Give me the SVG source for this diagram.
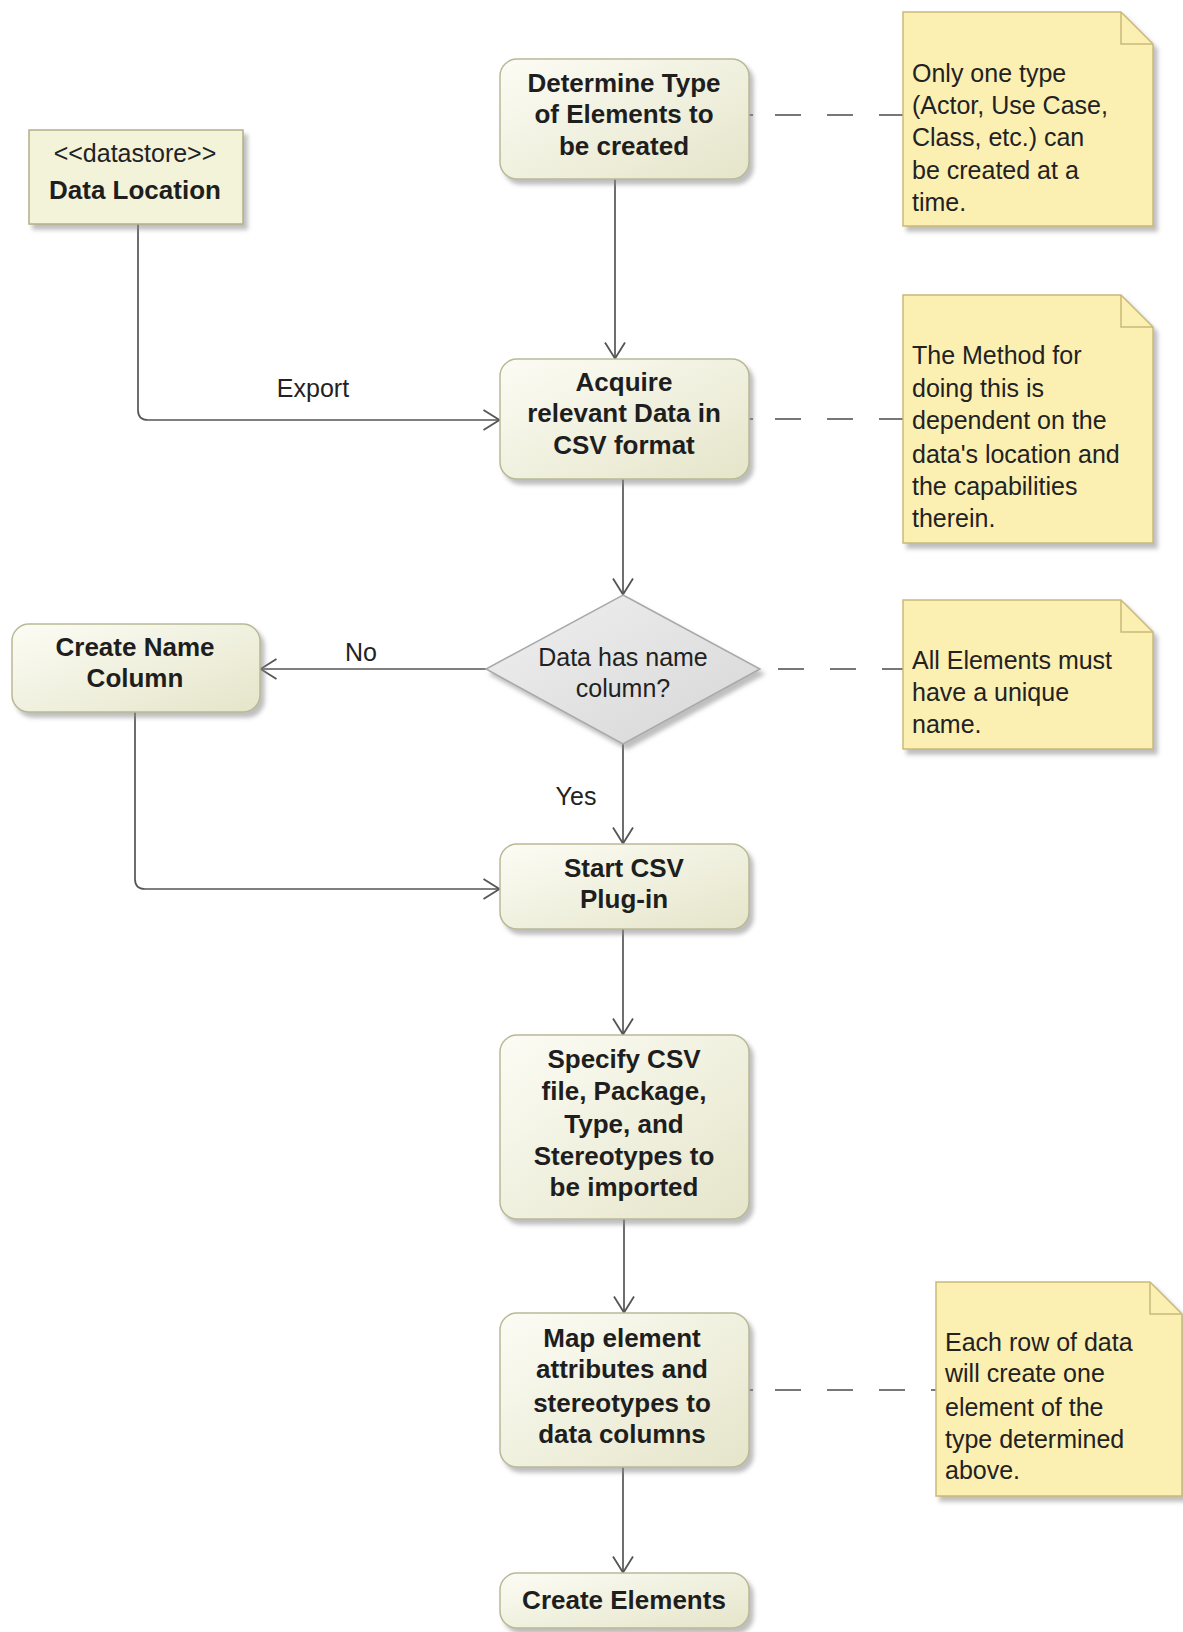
<svg xmlns="http://www.w3.org/2000/svg" width="1183" height="1632" viewBox="0 0 1183 1632">
<defs>
<linearGradient id="act" x1="0" y1="0" x2="1" y2="1">
<stop offset="0" stop-color="#fcfcf5"/>
<stop offset="1" stop-color="#e5e5ca"/>
</linearGradient>
<linearGradient id="dia" x1="0" y1="0" x2="1" y2="1">
<stop offset="0" stop-color="#f0f0f0"/>
<stop offset="1" stop-color="#d6d6d6"/>
</linearGradient>
<filter id="sh" x="-10%" y="-10%" width="130%" height="130%">
<feDropShadow dx="4" dy="5" stdDeviation="2" flood-color="#888" flood-opacity="0.55"/>
</filter>
<marker id="arr" viewBox="0 0 19 22" refX="17.5" refY="11" markerWidth="19" markerHeight="22" markerUnits="userSpaceOnUse" orient="auto">
<path d="M1,1 L17,11 L1,21" fill="none" stroke="#555" stroke-width="1.8"/>
</marker>
<style>
.act{fill:url(#act);stroke:#b9b996;stroke-width:1.5;filter:url(#sh)}
.store{fill:#f3f3da;stroke:#b5af86;stroke-width:1.5;filter:url(#sh)}
.note{fill:#fcefb2;stroke:#c9b97a;stroke-width:1.5;filter:url(#sh)}
.fold{fill:none;stroke:#c9b97a;stroke-width:1.5}
.dia{fill:url(#dia);stroke:#a9a9a9;stroke-width:1.5;filter:url(#sh)}
.b{font-family:"Liberation Sans",Arial,sans-serif;font-weight:bold;font-size:26px;fill:#1e1e1e;text-anchor:middle}
.r{font-family:"Liberation Sans",Arial,sans-serif;font-size:25px;fill:#222}
.ln{fill:none;stroke:#555;stroke-width:1.7}
.dash{fill:none;stroke:#777;stroke-width:2;stroke-dasharray:4 22 26 26 26 26 26 26 26 26}
.dash2{fill:none;stroke:#777;stroke-width:2;stroke-dasharray:26 26;stroke-dashoffset:34}
</style>
</defs>
<rect width="1183" height="1632" fill="#fff"/>

<g id="connectors">
<line class="ln" x1="615" y1="179" x2="615" y2="359" marker-end="url(#arr)"/>
<path class="ln" d="M138,224 V410 Q138,420 148,420 H500" marker-end="url(#arr)"/>
<line class="ln" x1="623" y1="479" x2="623" y2="595" marker-end="url(#arr)"/>
<line class="ln" x1="486" y1="669" x2="260" y2="669" marker-end="url(#arr)"/>
<line class="ln" x1="623" y1="744" x2="623" y2="844" marker-end="url(#arr)"/>
<path class="ln" d="M135,712 V879 Q135,889 145,889 H500" marker-end="url(#arr)"/>
<line class="ln" x1="623" y1="929" x2="623" y2="1035" marker-end="url(#arr)"/>
<line class="ln" x1="624" y1="1219" x2="624" y2="1313" marker-end="url(#arr)"/>
<line class="ln" x1="623" y1="1467" x2="623" y2="1573" marker-end="url(#arr)"/>
<line class="dash" x1="749" y1="115" x2="903" y2="115"/>
<line class="dash" x1="749" y1="419" x2="903" y2="419"/>
<line class="dash2" x1="760" y1="669" x2="903" y2="669"/>
<line class="dash" x1="749" y1="1390" x2="936" y2="1390"/>
<text class="r" x="313" y="397" text-anchor="middle">Export</text>
<text class="r" x="361" y="661" text-anchor="middle">No</text>
<text class="r" x="576" y="805" text-anchor="middle">Yes</text>
</g>

<g id="data-location">
<rect class="store" x="29" y="130" width="214" height="94"/>
<text class="r" x="135" y="162" text-anchor="middle">&lt;&lt;datastore&gt;&gt;</text>
<text class="b" x="135" y="199">Data Location</text>
</g>

<g id="determine-type">
<rect class="act" x="500" y="59" width="249" height="120" rx="17"/>
<text class="b" x="624" y="92">Determine Type</text>
<text class="b" x="624" y="123">of Elements to</text>
<text class="b" x="624" y="155">be created</text>
</g>

<g id="note-type">
<path class="note" d="M903,12 H1121 L1153,44 V226 H903 Z"/>
<path class="fold" d="M1121,12 V44 H1153"/>
<text class="r" x="912" y="82">Only one type</text>
<text class="r" x="912" y="114">(Actor, Use Case,</text>
<text class="r" x="912" y="146">Class, etc.) can</text>
<text class="r" x="912" y="179">be created at a</text>
<text class="r" x="912" y="211">time.</text>
</g>

<g id="acquire-data">
<rect class="act" x="500" y="359" width="249" height="120" rx="17"/>
<text class="b" x="624" y="391">Acquire</text>
<text class="b" x="624" y="422">relevant Data in</text>
<text class="b" x="624" y="454">CSV format</text>
</g>

<g id="note-method">
<path class="note" d="M903,295 H1121 L1153,327 V543 H903 Z"/>
<path class="fold" d="M1121,295 V327 H1153"/>
<text class="r" x="912" y="364">The Method for</text>
<text class="r" x="912" y="397">doing this is</text>
<text class="r" x="912" y="429">dependent on the</text>
<text class="r" x="912" y="463">data's location and</text>
<text class="r" x="912" y="495">the capabilities</text>
<text class="r" x="912" y="527">therein.</text>
</g>

<g id="decision-name-column">
<path class="dia" d="M623,595 L760,669 L623,744 L486,669 Z"/>
<text class="r" x="623" y="666" text-anchor="middle">Data has name</text>
<text class="r" x="623" y="697" text-anchor="middle">column?</text>
</g>

<g id="note-unique">
<path class="note" d="M903,600 H1121 L1153,632 V749 H903 Z"/>
<path class="fold" d="M1121,600 V632 H1153"/>
<text class="r" x="912" y="669">All Elements must</text>
<text class="r" x="912" y="701">have a unique</text>
<text class="r" x="912" y="733">name.</text>
</g>

<g id="create-name-column">
<rect class="act" x="12" y="624" width="248" height="88" rx="17"/>
<text class="b" x="135" y="656">Create Name</text>
<text class="b" x="135" y="687">Column</text>
</g>

<g id="start-csv-plugin">
<rect class="act" x="500" y="844" width="249" height="85" rx="17"/>
<text class="b" x="624" y="877">Start CSV</text>
<text class="b" x="624" y="908">Plug-in</text>
</g>

<g id="specify-csv">
<rect class="act" x="500" y="1035" width="249" height="184" rx="17"/>
<text class="b" x="624" y="1068">Specify CSV</text>
<text class="b" x="624" y="1100">file, Package,</text>
<text class="b" x="624" y="1133">Type, and</text>
<text class="b" x="624" y="1165">Stereotypes to</text>
<text class="b" x="624" y="1196">be imported</text>
</g>

<g id="map-attributes">
<rect class="act" x="500" y="1313" width="249" height="154" rx="17"/>
<text class="b" x="622" y="1347">Map element</text>
<text class="b" x="622" y="1378">attributes and</text>
<text class="b" x="622" y="1412">stereotypes to</text>
<text class="b" x="622" y="1443">data columns</text>
</g>

<g id="note-row">
<path class="note" d="M936,1282 H1150 L1182,1314 V1496 H936 Z"/>
<path class="fold" d="M1150,1282 V1314 H1182"/>
<text class="r" x="945" y="1351">Each row of data</text>
<text class="r" x="945" y="1382">will create one</text>
<text class="r" x="945" y="1416">element of the</text>
<text class="r" x="945" y="1448">type determined</text>
<text class="r" x="945" y="1479">above.</text>
</g>

<g id="create-elements">
<rect class="act" x="500" y="1573" width="249" height="55" rx="17"/>
<text class="b" x="624" y="1609">Create Elements</text>
</g>
</svg>
